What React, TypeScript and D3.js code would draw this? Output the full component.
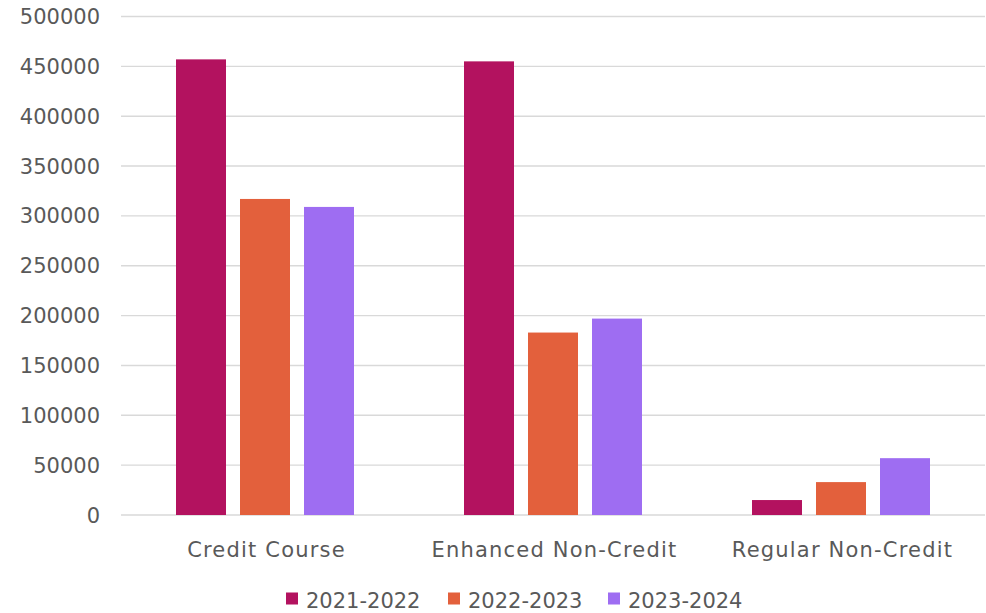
import React from "react";
import * as d3 from "d3";

const categories = ["Credit Course", "Enhanced Non-Credit", "Regular Non-Credit"];
const seriesNames = ["2021-2022", "2022-2023", "2023-2024"];
const values2021 = [457000, 455000, 15000];
const values2022 = [317000, 183000, 33000];
const values2023 = [309000, 197000, 57000];
const yTicks = [0, 50000, 100000, 150000, 200000, 250000, 300000, 350000, 400000, 450000, 500000];
const colors = ["#B3125F", "#E3603C", "#9E6DF2"];

const W = 986;
const H = 613;
const FONT = "'DejaVu Sans', sans-serif";
const TEXT = "#595959";

export default function App() {
  const seriesValues = [values2021, values2022, values2023];
  const left = 121;
  const right = 985;
  const y = d3.scaleLinear().domain([0, 500000]).range([515, 16.5]);
  const pad = 110 / 288;
  const x0 = d3
    .scaleBand<string>()
    .domain(categories)
    .range([left, right])
    .paddingInner(pad)
    .paddingOuter(pad / 2);
  const x1 = d3
    .scaleBand<string>()
    .domain(seriesNames)
    .range([0, x0.bandwidth()])
    .paddingInner(14 / 64)
    .paddingOuter(0);

  const legendX = [286, 448, 608];

  return (
    <svg
      width={W}
      height={H}
      style={{ position: "absolute", left: 0, top: 0, background: "#fff" }}
      fontFamily={FONT}
    >
      <rect x={0} y={0} width={W} height={H} fill="#fff" />
      {yTicks.map((t) => (
        <g key={t}>
          <line x1={left} x2={right} y1={y(t)} y2={y(t)} stroke="#D9D9D9" strokeWidth={1.4} />
          <text
            x={100}
            y={y(t)}
            dy="0.36em"
            textAnchor="end"
            fontSize={21}
            fill={TEXT}
          >
            {t}
          </text>
        </g>
      ))}
      {categories.map((c, ci) => (
        <g key={c}>
          {seriesNames.map((s, si) => {
            const v = seriesValues[si][ci];
            const bx = (x0(c) ?? 0) + (x1(s) ?? 0);
            return (
              <rect
                key={s}
                x={bx}
                y={y(v)}
                width={x1.bandwidth()}
                height={y(0) - y(v)}
                fill={colors[si]}
              />
            );
          })}
          <text
            x={(x0(c) ?? 0) + x0.bandwidth() / 2 + 1.5}
            y={557}
            textAnchor="middle"
            fontSize={21}
            letterSpacing={1.2}
            fill={TEXT}
          >
            {c}
          </text>
        </g>
      ))}
      {seriesNames.map((s, si) => (
        <g key={s}>
          <rect x={legendX[si]} y={592.5} width={12} height={12} fill={colors[si]} />
          <text x={legendX[si] + 20} y={608} fontSize={21} fill={TEXT}>
            {s}
          </text>
        </g>
      ))}
    </svg>
  );
}
